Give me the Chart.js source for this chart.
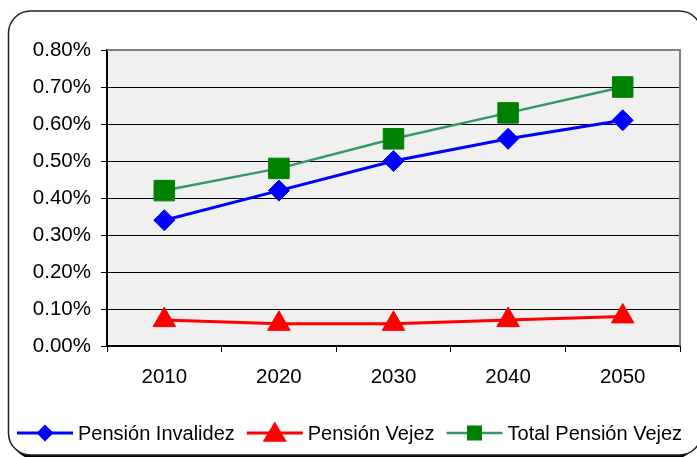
<!DOCTYPE html>
<html>
<head>
<meta charset="utf-8">
<script src="https://cdn.jsdelivr.net/npm/chart.js@4.4.1/dist/chart.umd.min.js"></script>
<style>
  html, body { margin: 0; padding: 0; background: #fff; }
  #wrap { width: 697px; height: 457px; }
</style>
</head>
<body>
<div id="wrap"><canvas id="chart" width="697" height="457"></canvas></div>
<script>
// Data (values in %)
const years = ['2010', '2020', '2030', '2040', '2050'];
const invalidez = [0.34, 0.42, 0.50, 0.56, 0.61];
const vejez = [0.07, 0.06, 0.06, 0.07, 0.08];
const totalVejez = [0.42, 0.48, 0.56, 0.63, 0.70];
const seriesNames = ['Pensión Invalidez', 'Pensión Vejez', 'Total Pensión Vejez'];

const FONT = '"Liberation Sans", Arial, sans-serif';
const FONT_SIZE = 20.5;

// Frame, plot background and the grey top/right border of the plot
const framePlugin = {
  id: 'frame',
  beforeDraw(chart) {
    const ctx = chart.ctx;
    const a = chart.chartArea;
    ctx.save();
    ctx.fillStyle = '#fff';
    ctx.fillRect(0, 0, chart.width, chart.height);
    // shadow of the outer border (only the bottom right shows)
    ctx.fillStyle = '#000';
    ctx.beginPath();
    ctx.roundRect(12, 15, 684, 444, 22);
    ctx.fill();
    ctx.fillStyle = '#fff';
    ctx.beginPath();
    ctx.roundRect(8.5, 11, 693, 444, 22);
    ctx.fill();
    // outer rounded border
    ctx.strokeStyle = '#222';
    ctx.lineWidth = 1.5;
    ctx.stroke();
    // plot area fill
    ctx.fillStyle = '#f0f0f0';
    ctx.fillRect(a.left, a.top, a.right - a.left, a.bottom - a.top);
    ctx.restore();
  },
  beforeDatasetsDraw(chart) {
    const ctx = chart.ctx;
    const a = chart.chartArea;
    ctx.save();
    ctx.strokeStyle = '#808080';
    ctx.lineWidth = 2;
    ctx.beginPath();
    ctx.moveTo(a.left, a.top);
    ctx.lineTo(a.right, a.top);
    ctx.lineTo(a.right, a.bottom);
    ctx.stroke();
    ctx.restore();
  }
};

function drawMarker(ctx, style, x, y, size, fill) {
  ctx.fillStyle = fill;
  ctx.beginPath();
  if (style === 'rectRot') {
    ctx.moveTo(x - size, y);
    ctx.lineTo(x, y - size);
    ctx.lineTo(x + size, y);
    ctx.lineTo(x, y + size);
  } else if (style === 'triangle') {
    ctx.moveTo(x, y - size);
    ctx.lineTo(x + size * 1.05, y + size * 0.75);
    ctx.lineTo(x - size * 1.05, y + size * 0.75);
  } else {
    ctx.rect(x - size, y - size, size * 2, size * 2);
  }
  ctx.closePath();
  ctx.fill();
}

// Legend along the bottom: line with the marker in the middle, then the name
const legendPlugin = {
  id: 'lineLegend',
  afterDraw(chart) {
    const ctx = chart.ctx;
    const y = 433;
    let x = 17;
    ctx.save();
    ctx.font = '20px ' + FONT;
    ctx.textBaseline = 'middle';
    ctx.textAlign = 'left';
    chart.data.datasets.forEach(ds => {
      ctx.strokeStyle = ds.borderColor;
      ctx.lineWidth = ds.borderWidth;
      ctx.beginPath();
      ctx.moveTo(x, y);
      ctx.lineTo(x + 56, y);
      ctx.stroke();
      drawMarker(ctx, ds.pointStyle, x + 28, y, ds.legendSize, ds.pointBackgroundColor);
      ctx.fillStyle = '#000';
      ctx.fillText(ds.label, x + 61, y + 1);
      x += 61 + ctx.measureText(ds.label).width + 12;
    });
    ctx.restore();
  }
};

new Chart(document.getElementById('chart'), {
  type: 'line',
  data: {
    labels: years,
    datasets: [
      {
        label: seriesNames[0],
        data: invalidez,
        borderColor: '#0000ff',
        backgroundColor: '#0000ff',
        pointBackgroundColor: '#0000ff',
        pointBorderColor: '#0000ff',
        borderWidth: 3,
        pointStyle: 'rectRot',
        pointRadius: 10.5,
        pointBorderWidth: 1,
        legendSize: 8.5
      },
      {
        label: seriesNames[1],
        data: vejez,
        borderColor: '#ff0000',
        backgroundColor: '#ff0000',
        pointBackgroundColor: '#ff0000',
        pointBorderColor: '#ff0000',
        borderWidth: 3,
        pointStyle: 'triangle',
        pointRadius: 13,
        pointBorderWidth: 1,
        legendSize: 11.5
      },
      {
        label: seriesNames[2],
        data: totalVejez,
        borderColor: '#339966',
        backgroundColor: '#008000',
        pointBackgroundColor: '#008000',
        pointBorderColor: '#008000',
        borderWidth: 2.5,
        pointStyle: 'rect',
        pointRadius: 14.5,
        pointBorderWidth: 1,
        legendSize: 7.5
      }
    ]
  },
  options: {
    responsive: false,
    animation: false,
    layout: {
      padding: { left: 0, top: 50, right: 17, bottom: 0 }
    },
    elements: {
      line: { tension: 0 }
    },
    scales: {
      x: {
        offset: true,
        afterFit: scale => { scale.height = 111; },
        grid: {
          offset: true,
          drawOnChartArea: false,
          drawTicks: true,
          tickLength: 6,
          tickColor: '#000',
          tickWidth: 1
        },
        border: { display: true, color: '#000', width: 2 },
        ticks: {
          color: '#000',
          padding: 13,
          font: { family: FONT, size: FONT_SIZE }
        }
      },
      y: {
        min: 0,
        max: 0.8,
        afterFit: scale => { scale.width = 107; },
        grid: {
          color: '#000',
          lineWidth: 1,
          drawTicks: true,
          tickLength: 6,
          tickColor: '#000'
        },
        border: { display: true, color: '#000', width: 2 },
        ticks: {
          stepSize: 0.1,
          color: '#000',
          padding: 10,
          font: { family: FONT, size: FONT_SIZE },
          callback: v => v.toFixed(2) + '%'
        }
      }
    },
    plugins: {
      legend: { display: false },
      tooltip: { enabled: false }
    }
  },
  plugins: [framePlugin, legendPlugin]
});
</script>
</body>
</html>
